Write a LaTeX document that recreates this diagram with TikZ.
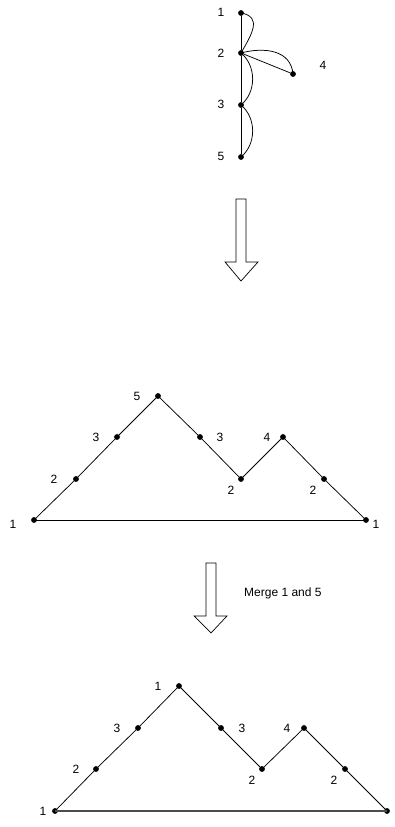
\documentclass[tikz,border=0pt]{standalone}
\usepackage{fontspec}
\setmainfont{Liberation Sans}
\begin{document}
\begin{tikzpicture}[x=1pt,y=1pt,
  dot/.style={circle,fill=black,draw=none,inner sep=0pt,minimum size=5.8pt},
  lbl/.style={inner sep=0pt,font=\fontsize{12}{14}\selectfont},
  edge/.style={line width=0.75pt},
  base/.style={line width=0.9pt},
  base2/.style={line width=1.5pt,draw=black!70},
  hollow/.style={line width=0.7pt,draw=black,fill=white}]
\useasboundingbox (0,0) rectangle (394,827);
% ---- top graph ----
\node[dot] (t1) at (241,814) {};
\node[dot] (t2) at (241,774) {};
\node[dot] (t3) at (241,722) {};
\node[dot] (t5) at (241,670) {};
\node[dot] (t4) at (293,753) {};
\node[lbl] (lt1) at (221,815) {1};
\node[lbl] (lt2) at (221,774) {2};
\node[lbl] (lt3) at (221,723) {3};
\node[lbl] (lt5) at (221,671) {5};
\node[lbl] (lt4) at (323,762) {4};
\draw[edge] (t1) -- (t2) -- (t3) -- (t5);
\draw[edge] (t2) -- (t4);
\draw[edge] (t1.center) to[out=-10,in=60,looseness=1.4] (t2.center);
\draw[edge] (t2.center) to[bend left=50] (t3.center);
\draw[edge] (t3.center) to[bend left=50] (t5.center);
\draw[edge] (t2.center) to[out=15,in=95,looseness=1.1] (t4.center);
% ---- arrow 1 ----
\draw[hollow] (236,628) -- (246,628) -- (246,565) -- (258,565) -- (241,546) -- (225,565) -- (236,565) -- cycle;
% ---- middle graph ----
\node[dot] (m1l) at (34,307) {};
\node[dot] (m2a) at (76,348) {};
\node[dot] (m3a) at (117,390) {};
\node[dot] (m5) at (158,431) {};
\node[dot] (m3b) at (200,390) {};
\node[dot] (m2b) at (241,348) {};
\node[dot] (m4) at (283,390) {};
\node[dot] (m2c) at (324,348) {};
\node[dot] (m1r) at (366,307) {};
\node[lbl] (lm1l) at (13,303) {1};
\node[lbl] (lm2a) at (54,348) {2};
\node[lbl] (lm3a) at (96,390) {3};
\node[lbl] (lm5) at (137,431) {5};
\node[lbl] (lm3b) at (220,390) {3};
\node[lbl] (lm2b) at (231,337) {2};
\node[lbl] (lm4) at (267,390) {4};
\node[lbl] (lm2c) at (313,337) {2};
\node[lbl] (lm1r) at (376,303) {1};
\draw[edge] (m1l.center) -- (m2a.center) -- (m3a.center) -- (m5.center) -- (m3b.center) -- (m2b.center) -- (m4.center) -- (m2c.center) -- (m1r.center);
\draw[base] (m1l.center) -- (m1r.center);
% ---- arrow 2 ----
\draw[hollow] (206,264) -- (216,264) -- (216,211) -- (227,211) -- (211,194) -- (194,211) -- (206,211) -- cycle;
\node[lbl,anchor=west] (merge) at (244,234) {Merge 1 and 5};
% ---- bottom graph ----
\node[dot] (b1l) at (55,16) {};
\node[dot] (b2a) at (96,58) {};
\node[dot] (b3a) at (138,99) {};
\node[dot] (b1t) at (179,141) {};
\node[dot] (b3b) at (221,99) {};
\node[dot] (b2b) at (262,58) {};
\node[dot] (b4) at (304,99) {};
\node[dot] (b2c) at (345,58) {};
\node[dot] (b1r) at (387,16) {};
\node[lbl] (lb1l) at (43,16) {1};
\node[lbl] (lb2a) at (76,58) {2};
\node[lbl] (lb3a) at (117,99) {3};
\node[lbl] (lb1t) at (158,141) {1};
\node[lbl] (lb3b) at (242,99) {3};
\node[lbl] (lb2b) at (252,47) {2};
\node[lbl] (lb4) at (287,99) {4};
\node[lbl] (lb2c) at (334,47) {2};
\draw[edge] (b1l.center) -- (b2a.center) -- (b3a.center) -- (b1t.center) -- (b3b.center) -- (b2b.center) -- (b4.center) -- (b2c.center) -- (b1r.center);
\draw[base2] (b1l.center) -- (b1r.center);
\end{tikzpicture}
\end{document}
